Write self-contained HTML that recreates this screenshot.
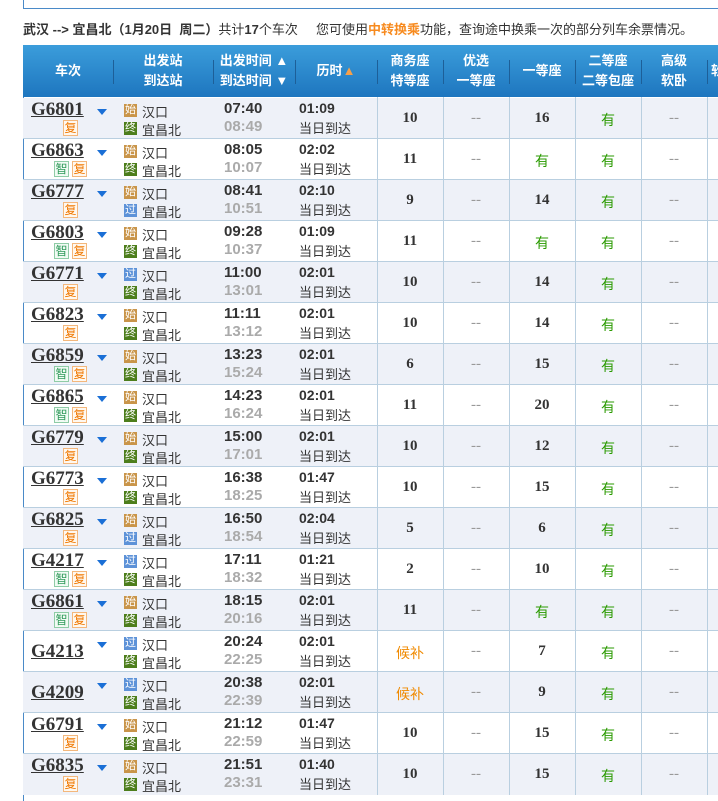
<!DOCTYPE html>
<html><head><meta charset="utf-8"><style>
*{margin:0;padding:0;box-sizing:border-box}
body{width:718px;height:801px;overflow:hidden;background:#fff;position:relative;font-family:"Liberation Sans","Noto Sans CJK SC",sans-serif;font-size:13px;color:#333}
.a{position:absolute;white-space:nowrap}
#topbox{left:23px;top:-2px;width:720px;height:11px;border:1px solid #4a8ac8;border-top:none}
#hd{left:23px;top:45px;width:700px;height:52px;background:linear-gradient(#3b9ddb,#1e76bf);color:#fff;font-weight:bold;font-size:13px}
.hc{position:absolute;top:0;height:52px;display:flex;align-items:center;justify-content:center;text-align:center;line-height:20px}
.sep{position:absolute;top:15px;height:24px;width:1px;background:#1d5f98}
.row{position:absolute;left:23px;width:700px;height:41px;border-bottom:1px solid #b9cfe0}
.sh{background:#eef1f8}
.vl{position:absolute;top:97px;height:698px;width:1px;background:#b9cfe0}
.tn{position:absolute;left:8px;top:1px;font:bold 19px "Liberation Serif",serif;color:#333;text-decoration:underline}
.tn.c{top:10px}
.tri{position:absolute;left:74px;top:11px;width:0;height:0;border-left:5px solid transparent;border-right:5px solid transparent;border-top:6px solid #1a6fd6}
.tg{position:absolute;top:22px;width:15px;height:16px;font-size:12px;line-height:14px;text-align:center}
.x{border:1px solid #f3b77c;color:#f07800;background:#fff8ef}
.z{border:1px solid #8fcca6;color:#2f9a5a;background:#f1fbf4}
.ic{position:absolute;left:101px;width:13px;height:13px;font-size:11px;line-height:13px;text-align:center;color:#fff}
.s{background:#c9954a}.g{background:#5d92d8}.e{background:#4d7e1c}
.st{position:absolute;left:119px;font-size:13px;color:#333}
.t1{position:absolute;left:201px;top:2px;font:bold 15px "Liberation Sans",sans-serif;color:#333}
.t2{position:absolute;left:201px;top:20px;font:bold 15px "Liberation Sans",sans-serif;color:#aaa}
.d1{position:absolute;left:276px;top:2px;font:bold 14px "Liberation Sans",sans-serif;color:#333}
.d2{position:absolute;left:276px;top:20px;font-size:13px;color:#333}
.v{position:absolute;top:12px;width:66px;text-align:center;font:bold 15px "Liberation Serif","Noto Sans CJK SC",serif;color:#333}
.v.y{color:#2a9a00;font-weight:normal;font-size:14px;font-family:"Liberation Sans","Noto Sans CJK SC",sans-serif}
.v.h{color:#f08a00;font-weight:normal;font-size:14px;font-family:"Liberation Sans","Noto Sans CJK SC",sans-serif}
.v.n{color:#999;font-weight:normal}
.c1{left:354px}.c2{left:420px}.c3{left:486px}.c4{left:552px}.c5{left:618px}
</style></head><body>
<div class="a" id="topbox"></div>
<div class="a" style="left:23px;top:19px;font-size:13px;color:#333"><b>武汉 --&gt; 宜昌北（1月20日&nbsp; 周二）</b>共计<b>17</b>个车次</div>
<div class="a" style="left:316px;top:19px;font-size:13px;color:#333">您可使用<b style="color:#f78a1e">中转换乘</b>功能，查询途中换乘一次的部分列车余票情况。</div>
<div class="a" id="hd">
<div class="hc" style="left:0;width:90px">车次</div><div class="sep" style="left:90px"></div>
<div class="hc" style="left:90px;width:100px">出发站<br>到达站</div><div class="sep" style="left:190px"></div>
<div class="hc" style="left:190px;width:82px">出发时间 ▲<br>到达时间 ▼</div><div class="sep" style="left:272px"></div>
<div class="hc" style="left:272px;width:82px">历时 <span style="color:#f5a04a">▲</span></div><div class="sep" style="left:354px"></div>
<div class="hc" style="left:354px;width:66px">商务座<br>特等座</div><div class="sep" style="left:420px"></div>
<div class="hc" style="left:420px;width:66px">优选<br>一等座</div><div class="sep" style="left:486px"></div>
<div class="hc" style="left:486px;width:66px">一等座</div><div class="sep" style="left:552px"></div>
<div class="hc" style="left:552px;width:66px">二等座<br>二等包座</div><div class="sep" style="left:618px"></div>
<div class="hc" style="left:618px;width:66px">高级<br>软卧</div><div class="sep" style="left:684px"></div>
<div class="hc" style="left:684px;width:30px;justify-content:flex-start;padding-left:4px">软</div>
</div>
<div class="a" style="left:23px;top:97px;width:1px;height:704px;background:#4a8ac8"></div>

<div class="row sh" style="top:98px"><div class="tn">G6801</div><div class="tri"></div><div class="tg x" style="left:40px">复</div><div class="ic s" style="top:6px">始</div><div class="st" style="top:4px">汉口</div><div class="ic e" style="top:24px">终</div><div class="st" style="top:22px">宜昌北</div><div class="t1">07:40</div><div class="t2">08:49</div><div class="d1">01:09</div><div class="d2">当日到达</div><div class="v c1">10</div><div class="v n c2">--</div><div class="v c3">16</div><div class="v y c4">有</div><div class="v n c5">--</div></div>
<div class="row" style="top:139px"><div class="tn">G6863</div><div class="tri"></div><div class="tg z" style="left:31px">智</div><div class="tg x" style="left:49px">复</div><div class="ic s" style="top:6px">始</div><div class="st" style="top:4px">汉口</div><div class="ic e" style="top:24px">终</div><div class="st" style="top:22px">宜昌北</div><div class="t1">08:05</div><div class="t2">10:07</div><div class="d1">02:02</div><div class="d2">当日到达</div><div class="v c1">11</div><div class="v n c2">--</div><div class="v y c3">有</div><div class="v y c4">有</div><div class="v n c5">--</div></div>
<div class="row sh" style="top:180px"><div class="tn">G6777</div><div class="tri"></div><div class="tg x" style="left:40px">复</div><div class="ic s" style="top:6px">始</div><div class="st" style="top:4px">汉口</div><div class="ic g" style="top:24px">过</div><div class="st" style="top:22px">宜昌北</div><div class="t1">08:41</div><div class="t2">10:51</div><div class="d1">02:10</div><div class="d2">当日到达</div><div class="v c1">9</div><div class="v n c2">--</div><div class="v c3">14</div><div class="v y c4">有</div><div class="v n c5">--</div></div>
<div class="row" style="top:221px"><div class="tn">G6803</div><div class="tri"></div><div class="tg z" style="left:31px">智</div><div class="tg x" style="left:49px">复</div><div class="ic s" style="top:6px">始</div><div class="st" style="top:4px">汉口</div><div class="ic e" style="top:24px">终</div><div class="st" style="top:22px">宜昌北</div><div class="t1">09:28</div><div class="t2">10:37</div><div class="d1">01:09</div><div class="d2">当日到达</div><div class="v c1">11</div><div class="v n c2">--</div><div class="v y c3">有</div><div class="v y c4">有</div><div class="v n c5">--</div></div>
<div class="row sh" style="top:262px"><div class="tn">G6771</div><div class="tri"></div><div class="tg x" style="left:40px">复</div><div class="ic g" style="top:6px">过</div><div class="st" style="top:4px">汉口</div><div class="ic e" style="top:24px">终</div><div class="st" style="top:22px">宜昌北</div><div class="t1">11:00</div><div class="t2">13:01</div><div class="d1">02:01</div><div class="d2">当日到达</div><div class="v c1">10</div><div class="v n c2">--</div><div class="v c3">14</div><div class="v y c4">有</div><div class="v n c5">--</div></div>
<div class="row" style="top:303px"><div class="tn">G6823</div><div class="tri"></div><div class="tg x" style="left:40px">复</div><div class="ic s" style="top:6px">始</div><div class="st" style="top:4px">汉口</div><div class="ic e" style="top:24px">终</div><div class="st" style="top:22px">宜昌北</div><div class="t1">11:11</div><div class="t2">13:12</div><div class="d1">02:01</div><div class="d2">当日到达</div><div class="v c1">10</div><div class="v n c2">--</div><div class="v c3">14</div><div class="v y c4">有</div><div class="v n c5">--</div></div>
<div class="row sh" style="top:344px"><div class="tn">G6859</div><div class="tri"></div><div class="tg z" style="left:31px">智</div><div class="tg x" style="left:49px">复</div><div class="ic s" style="top:6px">始</div><div class="st" style="top:4px">汉口</div><div class="ic e" style="top:24px">终</div><div class="st" style="top:22px">宜昌北</div><div class="t1">13:23</div><div class="t2">15:24</div><div class="d1">02:01</div><div class="d2">当日到达</div><div class="v c1">6</div><div class="v n c2">--</div><div class="v c3">15</div><div class="v y c4">有</div><div class="v n c5">--</div></div>
<div class="row" style="top:385px"><div class="tn">G6865</div><div class="tri"></div><div class="tg z" style="left:31px">智</div><div class="tg x" style="left:49px">复</div><div class="ic s" style="top:6px">始</div><div class="st" style="top:4px">汉口</div><div class="ic e" style="top:24px">终</div><div class="st" style="top:22px">宜昌北</div><div class="t1">14:23</div><div class="t2">16:24</div><div class="d1">02:01</div><div class="d2">当日到达</div><div class="v c1">11</div><div class="v n c2">--</div><div class="v c3">20</div><div class="v y c4">有</div><div class="v n c5">--</div></div>
<div class="row sh" style="top:426px"><div class="tn">G6779</div><div class="tri"></div><div class="tg x" style="left:40px">复</div><div class="ic s" style="top:6px">始</div><div class="st" style="top:4px">汉口</div><div class="ic e" style="top:24px">终</div><div class="st" style="top:22px">宜昌北</div><div class="t1">15:00</div><div class="t2">17:01</div><div class="d1">02:01</div><div class="d2">当日到达</div><div class="v c1">10</div><div class="v n c2">--</div><div class="v c3">12</div><div class="v y c4">有</div><div class="v n c5">--</div></div>
<div class="row" style="top:467px"><div class="tn">G6773</div><div class="tri"></div><div class="tg x" style="left:40px">复</div><div class="ic s" style="top:6px">始</div><div class="st" style="top:4px">汉口</div><div class="ic e" style="top:24px">终</div><div class="st" style="top:22px">宜昌北</div><div class="t1">16:38</div><div class="t2">18:25</div><div class="d1">01:47</div><div class="d2">当日到达</div><div class="v c1">10</div><div class="v n c2">--</div><div class="v c3">15</div><div class="v y c4">有</div><div class="v n c5">--</div></div>
<div class="row sh" style="top:508px"><div class="tn">G6825</div><div class="tri"></div><div class="tg x" style="left:40px">复</div><div class="ic s" style="top:6px">始</div><div class="st" style="top:4px">汉口</div><div class="ic g" style="top:24px">过</div><div class="st" style="top:22px">宜昌北</div><div class="t1">16:50</div><div class="t2">18:54</div><div class="d1">02:04</div><div class="d2">当日到达</div><div class="v c1">5</div><div class="v n c2">--</div><div class="v c3">6</div><div class="v y c4">有</div><div class="v n c5">--</div></div>
<div class="row" style="top:549px"><div class="tn">G4217</div><div class="tri"></div><div class="tg z" style="left:31px">智</div><div class="tg x" style="left:49px">复</div><div class="ic g" style="top:6px">过</div><div class="st" style="top:4px">汉口</div><div class="ic e" style="top:24px">终</div><div class="st" style="top:22px">宜昌北</div><div class="t1">17:11</div><div class="t2">18:32</div><div class="d1">01:21</div><div class="d2">当日到达</div><div class="v c1">2</div><div class="v n c2">--</div><div class="v c3">10</div><div class="v y c4">有</div><div class="v n c5">--</div></div>
<div class="row sh" style="top:590px"><div class="tn">G6861</div><div class="tri"></div><div class="tg z" style="left:31px">智</div><div class="tg x" style="left:49px">复</div><div class="ic s" style="top:6px">始</div><div class="st" style="top:4px">汉口</div><div class="ic e" style="top:24px">终</div><div class="st" style="top:22px">宜昌北</div><div class="t1">18:15</div><div class="t2">20:16</div><div class="d1">02:01</div><div class="d2">当日到达</div><div class="v c1">11</div><div class="v n c2">--</div><div class="v y c3">有</div><div class="v y c4">有</div><div class="v n c5">--</div></div>
<div class="row" style="top:631px"><div class="tn c">G4213</div><div class="tri"></div><div class="ic g" style="top:6px">过</div><div class="st" style="top:4px">汉口</div><div class="ic e" style="top:24px">终</div><div class="st" style="top:22px">宜昌北</div><div class="t1">20:24</div><div class="t2">22:25</div><div class="d1">02:01</div><div class="d2">当日到达</div><div class="v h c1">候补</div><div class="v n c2">--</div><div class="v c3">7</div><div class="v y c4">有</div><div class="v n c5">--</div></div>
<div class="row sh" style="top:672px"><div class="tn c">G4209</div><div class="tri"></div><div class="ic g" style="top:6px">过</div><div class="st" style="top:4px">汉口</div><div class="ic e" style="top:24px">终</div><div class="st" style="top:22px">宜昌北</div><div class="t1">20:38</div><div class="t2">22:39</div><div class="d1">02:01</div><div class="d2">当日到达</div><div class="v h c1">候补</div><div class="v n c2">--</div><div class="v c3">9</div><div class="v y c4">有</div><div class="v n c5">--</div></div>
<div class="row" style="top:713px"><div class="tn">G6791</div><div class="tri"></div><div class="tg x" style="left:40px">复</div><div class="ic s" style="top:6px">始</div><div class="st" style="top:4px">汉口</div><div class="ic e" style="top:24px">终</div><div class="st" style="top:22px">宜昌北</div><div class="t1">21:12</div><div class="t2">22:59</div><div class="d1">01:47</div><div class="d2">当日到达</div><div class="v c1">10</div><div class="v n c2">--</div><div class="v c3">15</div><div class="v y c4">有</div><div class="v n c5">--</div></div>
<div class="row sh" style="top:754px;border-bottom:none"><div class="tn">G6835</div><div class="tri"></div><div class="tg x" style="left:40px">复</div><div class="ic s" style="top:6px">始</div><div class="st" style="top:4px">汉口</div><div class="ic e" style="top:24px">终</div><div class="st" style="top:22px">宜昌北</div><div class="t1">21:51</div><div class="t2">23:31</div><div class="d1">01:40</div><div class="d2">当日到达</div><div class="v c1">10</div><div class="v n c2">--</div><div class="v c3">15</div><div class="v y c4">有</div><div class="v n c5">--</div></div>

<div class="vl" style="left:377px"></div><div class="vl" style="left:443px"></div><div class="vl" style="left:509px"></div><div class="vl" style="left:575px"></div><div class="vl" style="left:641px"></div><div class="vl" style="left:707px"></div>
</body></html>
